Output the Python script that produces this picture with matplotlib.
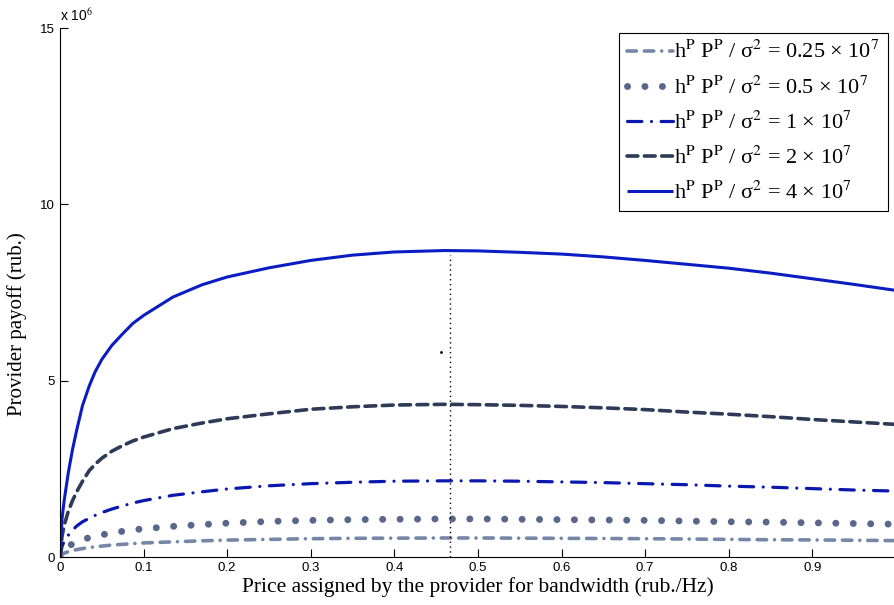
import matplotlib
matplotlib.use("Agg")
import matplotlib.pyplot as plt

plt.rcParams["mathtext.fontset"] = "stix"
plt.rcParams["font.family"] = ["Liberation Sans", "DejaVu Sans"]

# price grid (rub./Hz)
price = [0, 0.0025, 0.005, 0.01, 0.015, 0.02, 0.027, 0.035, 0.042, 0.05, 0.062,
         0.075, 0.087, 0.1, 0.135, 0.17, 0.2, 0.25, 0.3, 0.35, 0.4, 0.46, 0.5,
         0.55, 0.6, 0.65, 0.7, 0.75, 0.8, 0.85, 0.9, 0.95, 1.0]

# provider payoff, x 10^6 rub.
payoff_025 = [0, 0.07, 0.11, 0.15, 0.18, 0.21, 0.24, 0.27, 0.29, 0.31, 0.34,
              0.36, 0.38, 0.40, 0.43, 0.46, 0.48, 0.50, 0.52, 0.53, 0.535, 0.54,
              0.54, 0.535, 0.53, 0.525, 0.52, 0.51, 0.50, 0.49, 0.485, 0.475, 0.465]
payoff_05 = [0, 0.15, 0.22, 0.31, 0.37, 0.43, 0.49, 0.55, 0.59, 0.63, 0.68,
             0.73, 0.77, 0.80, 0.87, 0.92, 0.96, 1.01, 1.04, 1.06, 1.07, 1.08,
             1.08, 1.07, 1.06, 1.05, 1.04, 1.02, 1.00, 0.99, 0.97, 0.95, 0.93]
payoff_1 = [0, 0.30, 0.45, 0.62, 0.76, 0.88, 1.00, 1.10, 1.18, 1.26, 1.36,
            1.45, 1.53, 1.60, 1.75, 1.85, 1.93, 2.02, 2.08, 2.12, 2.15, 2.16,
            2.16, 2.15, 2.13, 2.11, 2.08, 2.05, 2.01, 1.98, 1.94, 1.90, 1.87]
payoff_2 = [0, 0.60, 0.90, 1.30, 1.60, 1.85, 2.15, 2.45, 2.63, 2.80, 3.00,
            3.16, 3.29, 3.40, 3.64, 3.80, 3.92, 4.06, 4.19, 4.26, 4.31, 4.33,
            4.32, 4.30, 4.27, 4.23, 4.18, 4.11, 4.05, 3.98, 3.90, 3.83, 3.76]
payoff_4 = [0, 1.10, 1.60, 2.40, 3.05, 3.60, 4.30, 4.85, 5.25, 5.60, 6.00,
            6.33, 6.62, 6.85, 7.37, 7.72, 7.94, 8.20, 8.41, 8.56, 8.65, 8.69,
            8.68, 8.64, 8.59, 8.51, 8.41, 8.30, 8.19, 8.05, 7.89, 7.73, 7.56]

labels = ["0.25", "0.5", "1", "2", "4"]

# optimal price marker
opt_price = 0.466
opt_payoff = 8.55
stray_point = (0.456, 5.82)

fig = plt.figure(figsize=(8.94, 6.05), dpi=100)
ax = fig.add_axes([0.0671, 0.0793, 0.935, 0.8744])

series = [payoff_025, payoff_05, payoff_1, payoff_2, payoff_4]
styles = [
    dict(color="#7686a6", lw=2.6, dashes=(2.6, 2.2, 2.6, 2.2, 0.01, 2.2)),
    dict(color="#58678a", lw=5.0, dashes=(0.01, 2.5)),
    dict(color="#0a18b0", lw=2.3, dashes=(4.5, 3.0, 0.01, 3.0)),
    dict(color="#2e3b56", lw=2.6, dashes=(3.0, 1.8)),
    dict(color="#0c1cc4", lw=2.2),
]

for vals, lab, st in zip(series, labels, styles):
    label = (r"h$^{\rm P}$ P$^{\rm P}$ / σ$^{2}$ = " + lab + r" × 10$^{7}$")
    ax.plot(price, vals, label=label, dash_capstyle="round",
            solid_capstyle="butt", **st)

ax.plot([opt_price, opt_price], [0, opt_payoff], color="black", lw=1.0,
        linestyle=(0, (1, 2.5)))
ax.plot(stray_point[0], stray_point[1], "k.", markersize=2)

ax.set_xlim(0, 1)
ax.set_ylim(0, 15)
ax.set_xticks([0, 0.1, 0.2, 0.3, 0.4, 0.5, 0.6, 0.7, 0.8, 0.9])
ax.set_xticklabels(["0", "0.1", "0.2", "0.3", "0.4", "0.5", "0.6", "0.7", "0.8", "0.9"])
ax.set_yticks([0, 5, 10, 15])
ax.tick_params(direction="in", length=6, labelsize=9.5, width=0.8)
for s in ["top", "right"]:
    ax.spines[s].set_visible(False)

ax.text(0.0, 1.008, r"x 10$^{6}$", transform=ax.transAxes, fontsize=10,
        ha="left", va="bottom")

ax.set_xlabel("Price assigned by the provider for bandwidth (rub./Hz)",
              family="Liberation Serif", fontsize=15.5, labelpad=2)
ax.set_ylabel("Provider payoff (rub.)", family="Liberation Serif", fontsize=15)
ax.yaxis.set_label_coords(-0.04, 0.44)

leg = ax.legend(loc="upper right", bbox_to_anchor=(0.99, 0.99),
                prop={"family": "Liberation Serif", "size": 16},
                handlelength=2.1, handletextpad=0.05, labelspacing=0.58,
                borderpad=0.35, borderaxespad=0, fancybox=False, framealpha=1,
                edgecolor="black")
leg.get_frame().set_linewidth(0.8)

fig.savefig("out.png", dpi=100)
